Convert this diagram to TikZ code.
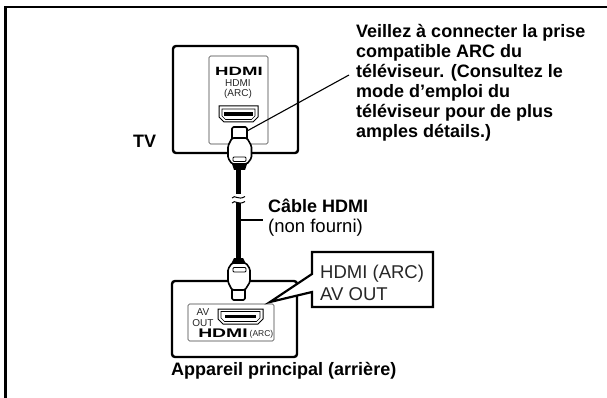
\documentclass[tikz,border=0pt]{standalone}
\usepackage{fontspec}
\setmainfont{Liberation Sans}
\usetikzlibrary{arrows.meta, positioning, calc}

\tikzset{
  boxline/.style={line width=2.4pt, rounded corners=3pt, fill=white},
  panelline/.style={line width=0.6pt, rounded corners=1.5pt, draw=black!75},
  plugline/.style={line width=1.6pt, fill=white, line join=round, rounded corners=1.5pt},
  label/.style={font=\fontsize{18}{20}\selectfont\bfseries, align=left, inner sep=0pt},
  plainlabel/.style={font=\fontsize{18.5}{22}\selectfont, align=left, inner sep=0pt},
  tiny/.style={font=\fontsize{10}{10.5}\selectfont, align=center, inner sep=0pt, text=black!85},
  logo/.style={font=\fontsize{12}{12}\selectfont\bfseries, inner sep=0pt, xscale=1.55}
}

\begin{document}
\begin{tikzpicture}[x=1pt, y=-1pt, >=Stealth]
  \useasboundingbox (0,0) rectangle (607,398);

  % frame, only two sides
  \draw[line width=2.8pt] (5.5,398) -- (5.5,7) -- (607,7);

  % TV
  \draw[boxline] (173,46) rectangle (298,153);
  \draw[panelline] (209,56) rectangle (268,144);
  \node[logo] (tvlogo) at (239,71.5) {HDMI};
  \node[tiny, anchor=base] (tvport) at (238,97) {HDMI\\(ARC)};
  % TV socket
  \draw[line width=1pt, fill=white] (219,106) -- (258,106) -- (258,117) -- (253,122) -- (224,122) -- (219,117) -- cycle;
  \draw[line width=0.6pt] (222,109) -- (255,109) -- (255,116) -- (251.5,119.5) -- (225.5,119.5) -- (222,116) -- cycle;
  \fill (224,112) rectangle (253,116);
  \node[label, anchor=base west] (tvname) at (133,148) {TV};

  % cable
  \draw[line width=5pt] (238.5,165) -- (238.5,194);
  \draw[line width=5pt] (238.5,203) -- (238.5,262);
  \draw[line width=1pt] (232,198) .. controls (235,194) and (238,201) .. (245,196.5);
  \draw[line width=1pt] (232,203) .. controls (235,199) and (238,206) .. (245,201.5);

  % top plug
  \draw[plugline] (232,127) -- (247,127) -- (247,140) -- (232,140) -- cycle;
  \draw[plugline] (232,138) -- (247,138) -- (251.5,146) -- (251.5,158) -- (247,164) -- (232,164) -- (228,158) -- (228,146) -- cycle;
  \draw[line width=0.8pt, rounded corners=1pt] (233,157) rectangle (246,161.5);
  \fill (232,164) -- (247,164) -- (245,170) -- (234,170) -- cycle;

  % device
  \draw[boxline] (172,281) rectangle (297,357);
  \draw[panelline] (188,304) rectangle (274,341);
  \node[tiny, anchor=base] (avtext) at (203,326) {AV\\OUT};
  \draw[line width=1pt, fill=white] (218,309) -- (263,309) -- (263,319) -- (258,324) -- (223,324) -- (218,319) -- cycle;
  \draw[line width=0.6pt] (221,311.5) -- (260,311.5) -- (260,318) -- (256.5,321.5) -- (224.5,321.5) -- (221,318) -- cycle;
  \fill (225,315) rectangle (256,318);
  \node[logo, font=\fontsize{12.5}{13}\selectfont\bfseries] (devlogo) at (223,333.5) {HDMI};
  \node[tiny, font=\fontsize{8.5}{9}\selectfont] (devarc) at (261.5,334) {(ARC)};
  \node[label, anchor=base west] (devname) at (171,375) {Appareil principal (arrière)};

  % lower plug
  \fill (234,258) -- (243,258) -- (246,264) -- (231,264) -- cycle;
  \draw[plugline] (232,288) -- (245,288) -- (245,300) -- (232,300) -- cycle;
  \draw[plugline] (232,263) -- (246,263) -- (250,269) -- (250,282) -- (245,290) -- (232,290) -- (228,282) -- (228,269) -- cycle;
  \draw[line width=0.8pt, rounded corners=1pt] (233,267.5) rectangle (246,272);

  % callout
  \draw[line width=2.2pt, fill=white] (312,252) -- (433,252) -- (433,307) -- (312,307) -- (312,292) -- (270,302) -- (312,274) -- cycle;
  \node[plainlabel, text=black!85, anchor=base west] (callout) at (320,300) {HDMI (ARC)\\AV OUT};

  % notes
  \node[label, anchor=base west] (note) at (356,138) {Veillez à connecter la prise\\compatible ARC du\\téléviseur. (Consultez le\\mode d’emploi du\\téléviseur pour de plus\\amples détails.)};
  \coordinate (notept) at (349,75);
  \coordinate (plugpt) at (247,131);
  \draw[line width=1.1pt] (plugpt) -- (notept);

  \node[label, anchor=base west] (cablename) at (268,212) {Câble HDMI};
  \node[plainlabel, anchor=base west] (cablenote) at (268,232) {(non fourni)};
  \coordinate (cablept) at (239,220);
  \draw[line width=1.1pt] (cablept) -- (263,220);
\end{tikzpicture}
\end{document}
